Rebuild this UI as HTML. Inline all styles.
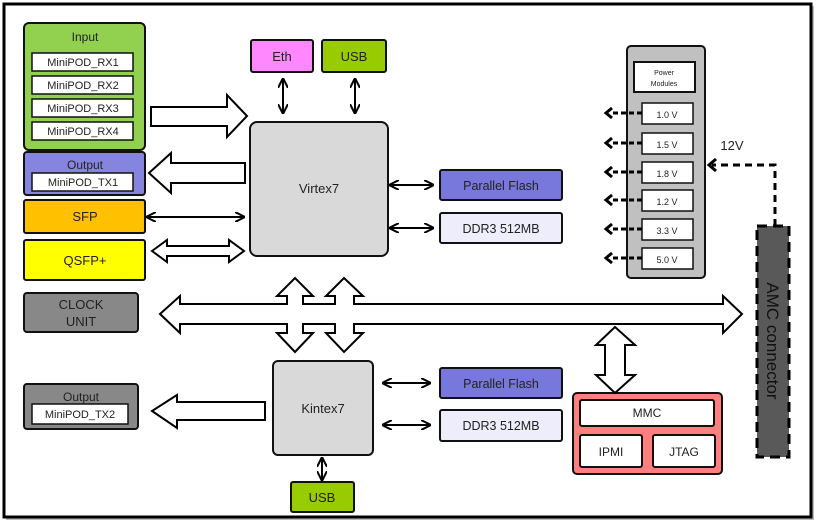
<!DOCTYPE html>
<html><head><style>
body{margin:0;background:#fff}
svg{display:block;font-family:"Liberation Sans",sans-serif}
</style></head><body>
<svg width="817" height="523" viewBox="0 0 817 523" xmlns="http://www.w3.org/2000/svg">
<defs>
<marker id="ah" viewBox="0 0 10 10" refX="9" refY="5" markerWidth="5" markerHeight="5" orient="auto-start-reverse"><path d="M0,0 L10,5 L0,10" fill="none" stroke="#000" stroke-width="2"/></marker>
</defs>
<rect x="0" y="0" width="817" height="523" fill="#fff"/>
<rect x="6" y="6" width="808" height="514" fill="#bbb"/>
<rect x="4" y="4" width="807" height="513" fill="#fff" stroke="#000" stroke-width="3"/>
<g stroke="#111" stroke-width="2">
<rect x="24" y="23" width="121" height="127" rx="5" fill="#92d050"/>
<rect x="32" y="53" width="101" height="18" fill="#fff" stroke-width="1.5"/>
<rect x="32" y="76" width="101" height="18" fill="#fff" stroke-width="1.5"/>
<rect x="32" y="99" width="101" height="18" fill="#fff" stroke-width="1.5"/>
<rect x="32" y="122" width="101" height="18" fill="#fff" stroke-width="1.5"/>
<rect x="24" y="152" width="121" height="43" rx="3" fill="#8585e0"/>
<rect x="32" y="173" width="101" height="18" fill="#fff" stroke-width="1.5"/>
<rect x="24" y="200" width="121" height="33" rx="2" fill="#ffc000"/>
<rect x="24" y="240" width="121" height="40" rx="2" fill="#ffff00"/>
<rect x="24" y="293" width="114" height="39" rx="3" fill="#888"/>
<rect x="24" y="384" width="114" height="45" rx="3" fill="#888"/>
<rect x="32" y="404" width="96" height="20" fill="#fff" stroke-width="1.5"/>
<rect x="251" y="40" width="62" height="32" rx="2" fill="#ff88ff"/>
<rect x="322" y="40" width="64" height="32" rx="2" fill="#99cc00"/>
<rect x="250" y="122" width="138" height="134" rx="7" fill="#d9d9d9"/>
<rect x="440" y="170" width="122" height="30" rx="2" fill="#7878dc"/>
<rect x="440" y="213" width="122" height="30" rx="2" fill="#ededfb"/>
<rect x="273" y="361" width="100" height="94" rx="5" fill="#d9d9d9"/>
<rect x="440" y="368" width="122" height="30" rx="2" fill="#7878dc"/>
<rect x="440" y="410" width="122" height="31" rx="2" fill="#ededfb"/>
<rect x="291" y="482" width="63" height="30" rx="2" fill="#99cc00"/>
<rect x="573" y="393" width="149" height="81" rx="4" fill="#ff7f7f"/>
<rect x="580" y="400" width="134" height="26" rx="2" fill="#fff"/>
<rect x="580" y="435" width="62" height="32" rx="2" fill="#fff"/>
<rect x="653" y="435" width="62" height="32" rx="2" fill="#fff"/>
<rect x="627" y="46" width="78" height="232" rx="4" fill="#c0c0c0"/>
<rect x="634" y="62" width="61" height="30" fill="#fff"/>
<rect x="642" y="103" width="51" height="21" fill="#fff" stroke-width="1.5"/>
<rect x="642" y="133" width="51" height="21" fill="#fff" stroke-width="1.5"/>
<rect x="642" y="162" width="51" height="21" fill="#fff" stroke-width="1.5"/>
<rect x="642" y="190" width="51" height="21" fill="#fff" stroke-width="1.5"/>
<rect x="642" y="219" width="51" height="21" fill="#fff" stroke-width="1.5"/>
<rect x="642" y="248" width="51" height="21" fill="#fff" stroke-width="1.5"/>
</g>
<rect x="757" y="226" width="32" height="231" fill="#595959" stroke="#000" stroke-width="3" stroke-dasharray="10,6"/>
<text transform="translate(767,341) rotate(90)" text-anchor="middle" font-size="17" fill="#111">AMC connector</text>
<g stroke="#000" stroke-width="3" fill="none">
<path d="M775,226 V165 H712" stroke-dasharray="7,5"/>
<path d="M716,159 L709,165 L716,171"/>
<g stroke-dasharray="5,3"><path d="M642,113H610"/><path d="M642,143H610"/><path d="M642,172H610"/><path d="M642,200H610"/><path d="M642,229H610"/><path d="M642,258H610"/></g>
<g><path d="M612,108L606,113L612,118M612,138L606,143L612,148M612,167L606,172L612,177M612,195L606,200L612,205M612,224L606,229L612,234M612,253L606,258L612,263"/></g>
</g>
<g stroke="#000" stroke-width="2" fill="none" marker-start="url(#ah)" marker-end="url(#ah)">
<line x1="283" y1="79" x2="283" y2="113"/>
<line x1="355" y1="79" x2="355" y2="113"/>
<line x1="147" y1="217" x2="244" y2="217"/>
<line x1="390" y1="185" x2="433" y2="185"/>
<line x1="390" y1="228" x2="433" y2="228"/>
<line x1="383" y1="383" x2="430" y2="383"/>
<line x1="383" y1="425" x2="430" y2="425"/>
<line x1="322" y1="458" x2="322" y2="480"/>
</g>
<g fill="#fff" stroke="#000" stroke-width="2" stroke-linejoin="miter">
<path d="M151,107 H227 V95 L247,116 L227,137 V126 H151 Z"/>
<path d="M245,163 H171 V153 L149,173 L171,193 V183 H245 Z"/>
<path d="M152,251 L167,240 V246 H229 V240 L244,251 L229,262 V256 H167 V262 Z"/>
<path d="M265,402 H177 V395 L152,411 L177,428 V420 H265 Z"/>
<path d="M160,314 L180,296 V304 H287 V296 H277 L295,278 L313,296 H303 V304 H335 V296 H326 L344,278 L363,296 H354 V304 H723 V296 L742,314 L723,333 V324 H354 V333 H363 L344,352 L326,333 H335 V324 H303 V333 H313 L295,352 L277,333 H287 V324 H180 V333 Z"/>
<path d="M615,327 L635,345 H625 V375 H635 L615,393 L596,375 H605 V345 H596 Z"/>
</g>
<g font-size="12" fill="#222" text-anchor="middle">
<text x="85" y="41" font-size="12">Input</text>
<text x="83" y="66" font-size="11">MiniPOD_RX1</text>
<text x="83" y="89" font-size="11">MiniPOD_RX2</text>
<text x="83" y="112" font-size="11">MiniPOD_RX3</text>
<text x="83" y="135" font-size="11">MiniPOD_RX4</text>
<text x="85" y="169">Output</text>
<text x="83" y="186" font-size="11">MiniPOD_TX1</text>
<text x="85" y="221" font-size="13">SFP</text>
<text x="85" y="265" font-size="13">QSFP+</text>
<text x="81" y="309" font-size="13">CLOCK</text>
<text x="81" y="326" font-size="13">UNIT</text>
<text x="81" y="401" font-size="12">Output</text>
<text x="80" y="418" font-size="11">MiniPOD_TX2</text>
<text x="282" y="61" font-size="13">Eth</text>
<text x="354" y="61" font-size="13">USB</text>
<text x="319" y="193" font-size="13">Virtex7</text>
<text x="501" y="190" font-size="12.5">Parallel Flash</text>
<text x="501" y="233" font-size="12.5">DDR3 512MB</text>
<text x="323" y="413" font-size="13">Kintex7</text>
<text x="501" y="388" font-size="12.5">Parallel Flash</text>
<text x="501" y="430" font-size="12.5">DDR3 512MB</text>
<text x="322" y="502" font-size="13">USB</text>
<text x="647" y="417" font-size="12">MMC</text>
<text x="611" y="456" font-size="12">IPMI</text>
<text x="684" y="456" font-size="12">JTAG</text>
<text x="664" y="75" font-size="7">Power</text>
<text x="664" y="86" font-size="7">Modules</text>
<text x="667" y="118" font-size="9">1.0 V</text>
<text x="667" y="148" font-size="9">1.5 V</text>
<text x="667" y="177" font-size="9">1.8 V</text>
<text x="667" y="205" font-size="9">1.2 V</text>
<text x="667" y="234" font-size="9">3.3 V</text>
<text x="667" y="263" font-size="9">5.0 V</text>
<text x="732" y="150" font-size="13">12V</text>
</g>
</svg>
</body></html>
